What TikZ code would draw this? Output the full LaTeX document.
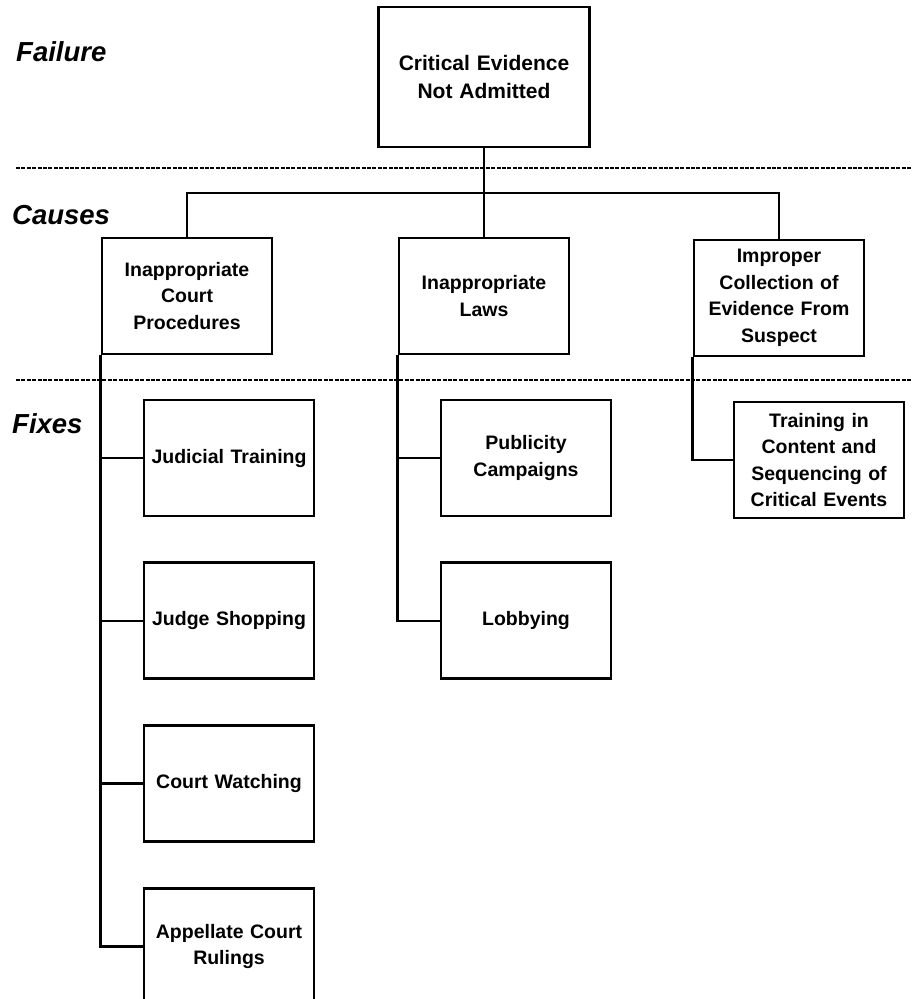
\documentclass[tikz,border=0pt]{standalone}
\usepackage{fontspec}
\setmainfont{Liberation Sans}
\usetikzlibrary{positioning}

\begin{document}
\begin{tikzpicture}[x=1pt,y=-1pt,node distance=44pt,
      blk/.style={rectangle,draw,line width=2.8pt,minimum width=170pt,minimum height=116pt,
                  text width=166pt,align=center,inner sep=0pt,
                  font=\fontsize{19.5}{26.5}\selectfont\bfseries},
      fblk/.style={blk,minimum width=211pt,minimum height=140pt,text width=205pt,
                  font=\fontsize{21}{28.5}\selectfont\bfseries},
      lvl/.style={anchor=base west,inner sep=0pt,font=\fontsize{27.5}{30}\selectfont\bfseries\itshape},
      divider/.style={line width=1.7pt,dash pattern=on 4pt off 1.4pt},
      link/.style={line width=2.4pt}]
  \useasboundingbox (0,0) rectangle (912,999);

  \node[lvl] (lf) at (16,61)  {Failure};
  \node[lvl] (lc) at (12,224) {Causes};
  \node[lvl] (lx) at (12,433) {Fixes};

  \draw[divider] (16,168) -- (912,168);
  \draw[divider] (16,380) -- (912,380);

  \node[fblk] (f)  at (484,77)  {Critical Evidence\\Not Admitted};
  \node[blk]  (c1) at (187,296) {Inappropriate\\Court\\Procedures};
  \node[blk]  (c2) at (484,296) {Inappropriate\\Laws};
  \node[blk]  (c3) at (779,298) {Improper\\Collection of\\Evidence From\\Suspect};

  \node[blk] (j1) at (229,458)    {Judicial Training};
  \node[blk] (j2) [below=of j1]   {Judge Shopping};
  \node[blk] (j3) [below=of j2]   {Court Watching};
  \node[blk] (j4) [below=of j3]   {Appellate Court\\Rulings};

  \node[blk] (p1) at (526,458)    {Publicity\\Campaigns};
  \node[blk] (p2) [below=of p1]   {Lobbying};

  \node[blk] (t1) at (819,460)    {Training in\\Content and\\Sequencing of\\Critical Events};

  \coordinate (h) at (484,193);
  \draw[link] (f.south) -- (c2.north);
  \draw[link] (c1.north) -- (c1.north |- h) -- (c3.north |- h) -- (c3.north);

  \draw[link] (c1.south west) |- (j4.west);
  \foreach \n in {j1,j2,j3} \draw[link] (c1.south west |- \n.west) -- (\n.west);
  \draw[link] (c2.south west) |- (p2.west);
  \draw[link] (c2.south west |- p1.west) -- (p1.west);
  \draw[link] (c3.south west) |- (t1.west);
\end{tikzpicture}
\end{document}
